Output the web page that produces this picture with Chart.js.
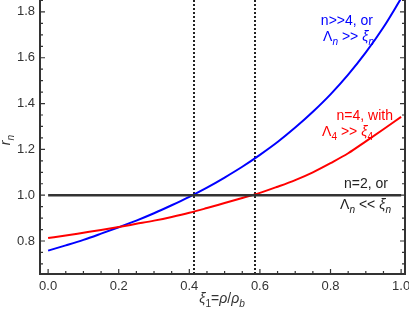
<!DOCTYPE html>
<html lang="en">
<head>
    <meta charset="UTF-8">
    <title>r_n versus xi_1</title>
    <script src="https://cdn.jsdelivr.net/npm/chart.js"></script>
    <style>
        html, body { margin: 0; padding: 0; background: #fff; }
    </style>
</head>
<body>
    <canvas id="myChart" width="409" height="317"></canvas>
    <script>
        // values
        const xVals   = [0.00, 0.05, 0.10, 0.15, 0.20, 0.25, 0.30, 0.35, 0.40, 0.45, 0.50,
                         0.55, 0.60, 0.65, 0.70, 0.75, 0.80, 0.85, 0.90, 0.95, 1.00];
        const bigNVals = [0.758, 0.781, 0.805, 0.832, 0.860, 0.889, 0.921, 0.956, 0.993, 1.033, 1.077,
                          1.124, 1.176, 1.232, 1.295, 1.364, 1.440, 1.526, 1.623, 1.733, 1.859]; // n>>4
        const n4Vals   = [0.813, 0.824, 0.836, 0.848, 0.861, 0.875, 0.889, 0.905, 0.923, 0.944, 0.966,
                          0.988, 1.010, 1.037, 1.066, 1.100, 1.140, 1.183, 1.235, 1.288, 1.342]; // n=4
        const n2X      = [0.0, 1.0];
        const n2Vals   = [1.0, 1.0]; // n=2
        const crossX   = [0.414, 0.586]; // dotted verticals
        const xTicks   = [0.0, 0.2, 0.4, 0.6, 0.8, 1.0];
        const yTicks   = [0.8, 1.0, 1.2, 1.4, 1.6, 1.8];

        const FONT = "'Liberation Sans', Arial, sans-serif";
        const INK = '#333';

        const toPts = (xs, ys) => xs.map((x, i) => ({ x: x, y: ys[i] }));

        // draws text made of pieces: [text, style] with style '' normal, 'i' italic, 's' italic subscript, 'S' upright subscript
        function drawRich(ctx, parts, x, y, align, size, color) {
            const fontFor = st => {
                const sub = st === 's' || st === 'S';
                const it = st === 'i' || st === 's';
                return (it ? 'italic ' : '') + (sub ? size * 0.72 : size) + 'px ' + FONT;
            };
            let total = 0;
            parts.forEach(p => { ctx.font = fontFor(p[1]); total += ctx.measureText(p[0]).width; });
            let cx = align === 'right' ? x - total : (align === 'center' ? x - total / 2 : x);
            ctx.fillStyle = color;
            ctx.textAlign = 'left';
            ctx.textBaseline = 'alphabetic';
            parts.forEach(p => {
                ctx.font = fontFor(p[1]);
                const dy = (p[1] === 's' || p[1] === 'S') ? size * 0.28 : 0;
                ctx.fillText(p[0], cx, y + dy);
                cx += ctx.measureText(p[0]).width;
            });
        }

        const decor = {
            id: 'decor',
            beforeDatasetsDraw(chart) {
                const { ctx, chartArea: a, scales: { x } } = chart;
                ctx.save();
                ctx.strokeStyle = '#222';
                ctx.lineWidth = 2;
                ctx.setLineDash([2, 2]);
                crossX.forEach(v => {
                    const px = Math.round(x.getPixelForValue(v));
                    ctx.beginPath();
                    ctx.moveTo(px, a.top);
                    ctx.lineTo(px, a.bottom);
                    ctx.stroke();
                });
                ctx.restore();
            },
            afterDraw(chart) {
                const { ctx, chartArea: a, scales: { x, y } } = chart;
                ctx.save();
                // frame
                ctx.strokeStyle = INK;
                ctx.lineWidth = 2;
                ctx.beginPath();
                ctx.moveTo(a.left, a.top);
                ctx.lineTo(a.left, a.bottom);
                ctx.lineTo(a.right, a.bottom);
                ctx.lineTo(a.right, a.top);
                ctx.stroke();

                // inward ticks, major every 0.2, minor every 0.05
                ctx.lineWidth = 1.2;
                ctx.beginPath();
                for (let k = 0; k <= 20; k++) {
                    const v = k * 0.05;
                    const len = k % 4 === 0 ? 5 : 3;
                    const px = x.getPixelForValue(v);
                    ctx.moveTo(px, a.bottom);
                    ctx.lineTo(px, a.bottom - len);
                }
                for (let k = 13; k <= 37; k++) {
                    const v = k * 0.05;
                    const len = k % 4 === 0 ? 5 : 3;
                    const py = y.getPixelForValue(v);
                    if (py < a.top - 1 || py > a.bottom) continue;
                    ctx.moveTo(a.left, py);
                    ctx.lineTo(a.left + len, py);
                    ctx.moveTo(a.right, py);
                    ctx.lineTo(a.right - len, py);
                }
                ctx.stroke();

                // curve labels
                drawRich(ctx, [['n>>4, or', '']], 373, 25, 'right', 14, '#0000ff');
                drawRich(ctx, [['\u039b', ''], ['n', 's'], [' >> ', ''], ['\u03be', 'i'], ['n', 's']], 374, 41, 'right', 14, '#0000ff');
                drawRich(ctx, [['n=4, with', '']], 393, 120, 'right', 14, '#ff0000');
                drawRich(ctx, [['\u039b', ''], ['4', 'S'], [' >> ', ''], ['\u03be', 'i'], ['4', 'S']], 373, 136, 'right', 14, '#ff0000');
                drawRich(ctx, [['n=2, or', '']], 388, 188, 'right', 14, '#222');
                drawRich(ctx, [['\u039b', ''], ['n', 's'], [' << ', ''], ['\u03be', 'i'], ['n', 's']], 391, 209, 'right', 14, '#222');

                // axis titles
                drawRich(ctx, [['\u03be', 'i'], ['1', 'S'], ['=', ''], ['\u03c1', 'i'], ['/', ''], ['\u03c1', 'i'], ['b', 's']],
                    222, 303, 'center', 14, INK);
                ctx.translate(10, 140);
                ctx.rotate(-Math.PI / 2);
                drawRich(ctx, [['r', 'i'], ['n', 's']], 0, 0, 'center', 14, INK);
                ctx.restore();
            }
        };

        const data = {
            datasets: [
                {
                    label: 'n=2',
                    data: toPts(n2X, n2Vals),
                    borderColor: '#333',
                    borderWidth: 2.5
                },
                {
                    label: 'n=4',
                    data: toPts(xVals, n4Vals),
                    borderColor: '#ff0000',
                    borderWidth: 2
                },
                {
                    label: 'n>>4',
                    data: toPts(xVals, bigNVals),
                    borderColor: '#0000ff',
                    borderWidth: 2
                }
            ]
        };

        const config = {
            type: 'line',
            data: data,
            options: {
                responsive: false,
                animation: false,
                layout: { padding: { top: 0, right: 4, bottom: 0, left: 0 } },
                elements: {
                    point: { radius: 0 },
                    line: { tension: 0.4, cubicInterpolationMode: 'monotone', fill: false }
                },
                plugins: {
                    legend: { display: false },
                    tooltip: { enabled: false }
                },
                scales: {
                    x: {
                        type: 'linear',
                        min: -0.023,
                        max: 1.011,
                        grid: { display: false, drawTicks: false },
                        border: { display: false },
                        afterBuildTicks: s => { s.ticks = xTicks.map(v => ({ value: v })); },
                        afterFit: s => { s.height = 43; s.paddingLeft = 0; s.paddingRight = 0; },
                        ticks: {
                            autoSkip: false,
                            maxRotation: 0,
                            padding: 5,
                            color: INK,
                            font: { family: FONT, size: 13 },
                            callback: v => v.toFixed(1)
                        }
                    },
                    y: {
                        min: 0.656,
                        max: 1.852,
                        grid: { display: false, drawTicks: false },
                        border: { display: false },
                        afterBuildTicks: s => { s.ticks = yTicks.map(v => ({ value: v })); },
                        afterFit: s => { s.width = 40; s.paddingTop = 0; s.paddingBottom = 0; },
                        ticks: {
                            autoSkip: false,
                            padding: 5,
                            color: INK,
                            font: { family: FONT, size: 13 },
                            callback: v => v.toFixed(1)
                        }
                    }
                }
            },
            plugins: [decor]
        };

        const myChart = new Chart(document.getElementById('myChart'), config);
    </script>
</body>
</html>
